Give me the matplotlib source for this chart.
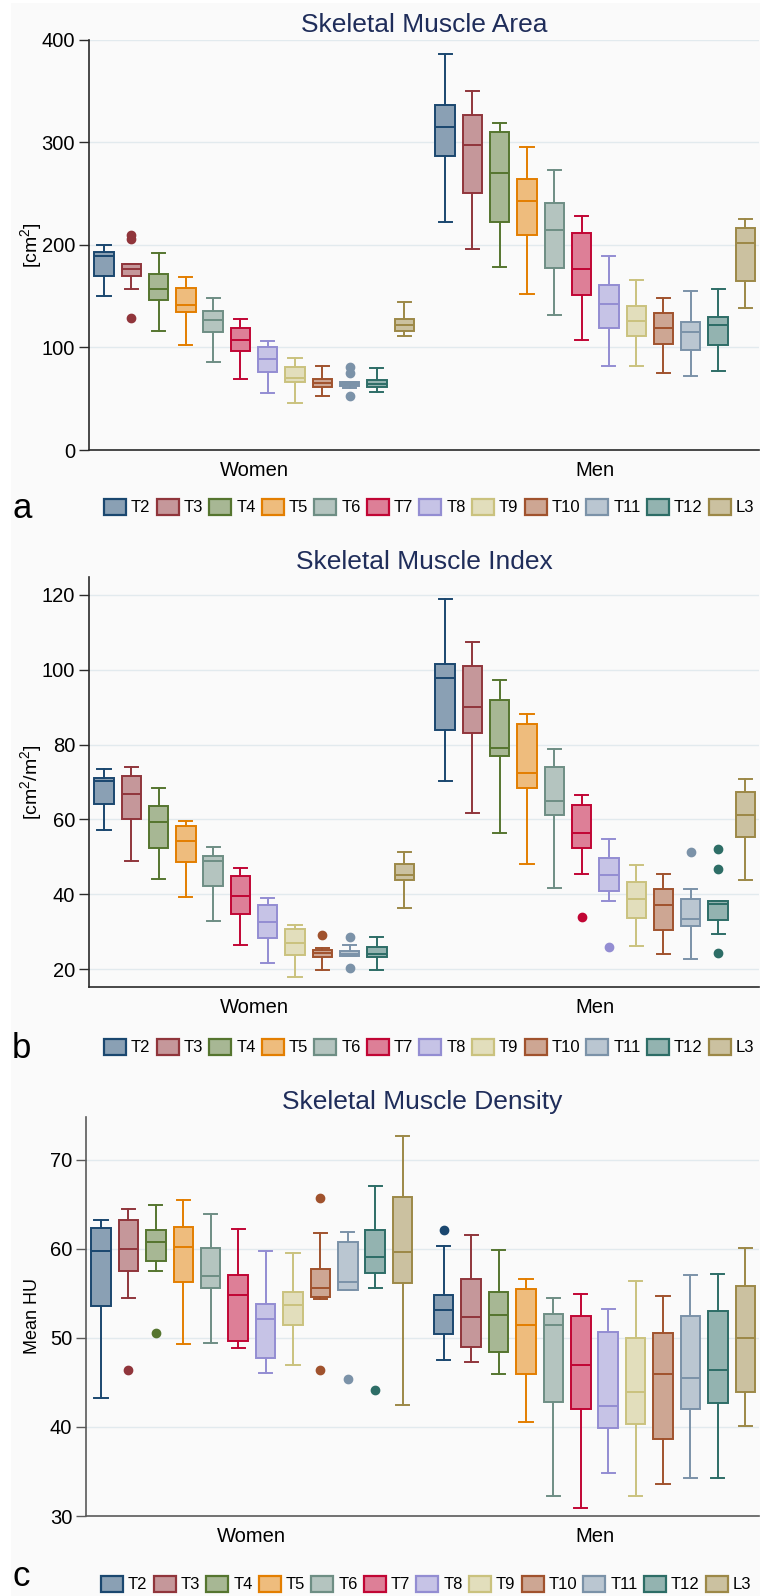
import matplotlib
matplotlib.use('Agg')
import matplotlib.pyplot as plt
from matplotlib.patches import Patch, Rectangle
import numpy as np

plt.rcParams['font.family'] = ['Liberation Sans', 'DejaVu Sans']
plt.rcParams['mathtext.default'] = 'regular'

LEVELS = ['T2', 'T3', 'T4', 'T5', 'T6', 'T7', 'T8', 'T9', 'T10', 'T11', 'T12', 'L3']
GROUPS = ['Women', 'Men']
COLORS = ['#1a476f', '#90353b', '#55752f', '#e37e00', '#6e8e84', '#c10534',
          '#938dd2', '#cac27e', '#a0522d', '#7b92a8', '#2d6d66', '#9c8847']

# ---- Panel a: Skeletal Muscle Area (women T2..L3, then men T2..L3) ----
AREA_LO  = [150, 157, 116, 102, 86, 69, 56, 46, 53, 60, 57, 111,
            222, 196, 179, 152, 132, 107, 82, 82, 75, 72, 77, 138.5]
AREA_Q1  = [170, 170, 146, 135, 115, 97, 76, 66, 61.5, 62.4, 61, 116,
            286.5, 251, 222.5, 210, 178, 151.5, 119.5, 111, 103.5, 97.5, 102.5, 165]
AREA_MED = [189, 177, 157, 141, 127, 107, 89, 70.5, 65, 64.4, 64.5, 122,
            315, 298, 270, 242.5, 214.5, 177, 142.5, 126, 119.5, 115.5, 121.5, 202]
AREA_Q3  = [193, 181.5, 172, 158, 136, 119, 100, 81, 69, 66.3, 68, 127.5,
            336.5, 327, 310, 264.5, 241, 211.5, 161, 140, 133.5, 125, 129.5, 216.5]
AREA_HI  = [200, 181.5, 192.5, 169, 148, 128, 106, 90, 82, 66.3, 80, 144,
            386, 350.5, 319, 296, 273, 228, 189, 166, 148.5, 155.5, 157, 225]
AREA_FLIERS = {1: [210, 206, 128.5], 9: [81, 75, 53]}

# ---- Panel b: Skeletal Muscle Index ----
SMI_LO  = [57.2, 49.0, 44.2, 39.2, 32.8, 26.5, 21.6, 17.8, 19.8, 23.6, 19.8, 36.4,
           70.2, 61.8, 56.5, 48.2, 41.7, 45.3, 38.1, 26.1, 24.0, 22.8, 29.4, 43.9]
SMI_Q1  = [64.2, 60.2, 52.4, 48.6, 42.1, 34.6, 28.3, 23.8, 23.3, 23.6, 23.2, 43.7,
           84.0, 83.0, 76.9, 68.3, 61.3, 52.4, 40.8, 33.7, 30.5, 31.5, 33.2, 55.2]
SMI_MED = [70.4, 66.7, 59.3, 54.3, 48.8, 39.4, 32.7, 26.9, 24.2, 24.1, 24.1, 45.2,
           97.7, 90.0, 79.1, 72.4, 64.8, 56.5, 45.1, 38.6, 37.1, 33.3, 37.4, 61.2]
SMI_Q3  = [71.1, 71.5, 63.5, 58.2, 50.1, 45.0, 37.2, 30.8, 25.0, 24.7, 26.0, 48.2,
           101.5, 101.0, 92.0, 85.4, 73.9, 63.8, 49.8, 43.2, 41.4, 38.8, 38.3, 67.2]
SMI_HI  = [73.6, 74.1, 68.4, 59.7, 52.5, 46.9, 39.1, 31.9, 25.6, 26.5, 28.6, 51.2,
           119.0, 107.3, 97.3, 88.3, 78.9, 66.6, 54.7, 47.9, 45.3, 41.4, 38.3, 70.9]
SMI_FLIERS = {8: [29.0], 9: [28.5, 20.2], 17: [33.9], 18: [26.0], 21: [51.4],
              22: [52.0, 46.7, 24.3]}

# ---- Panel c: Skeletal Muscle Density ----
SMD_LO  = [43.2, 54.5, 57.5, 49.3, 49.4, 48.9, 46.1, 47.0, 54.4, 55.4, 55.6, 42.5,
           47.5, 47.3, 45.9, 40.6, 32.2, 30.9, 34.8, 32.2, 33.6, 34.3, 34.3, 40.1]
SMD_Q1  = [53.6, 57.5, 58.6, 56.3, 55.6, 49.6, 47.7, 51.5, 54.6, 55.4, 57.3, 56.2,
           50.4, 49.0, 48.4, 46.0, 42.8, 42.0, 39.9, 40.3, 38.7, 42.0, 42.7, 43.9]
SMD_MED = [59.8, 60.0, 60.8, 60.2, 57.0, 54.8, 52.1, 53.7, 55.6, 56.3, 59.1, 59.6,
           53.1, 52.4, 52.6, 51.4, 51.4, 47.0, 42.4, 43.9, 45.9, 45.5, 46.4, 50.0]
SMD_Q3  = [62.3, 63.2, 62.1, 62.4, 60.1, 57.1, 53.8, 55.2, 57.7, 60.8, 62.1, 65.8,
           54.8, 56.6, 55.2, 55.5, 52.7, 52.5, 50.7, 50.0, 50.5, 52.5, 53.0, 55.8]
SMD_HI  = [63.2, 64.5, 64.9, 65.5, 63.9, 62.2, 59.7, 59.5, 61.8, 61.9, 67.1, 72.7,
           60.3, 61.5, 59.9, 56.6, 54.5, 54.9, 53.2, 56.4, 54.7, 57.1, 57.2, 60.1]
SMD_FLIERS = {1: [46.4], 2: [50.6], 8: [65.7, 46.4], 9: [45.4], 10: [44.1], 12: [62.1]}

W, H = 760, 1596
BG = (0.98, 0.98, 0.98)


def lighten(c, a=0.5):
    r, g, b = matplotlib.colors.to_rgb(c)
    return (a * r + (1 - a) * BG[0], a * g + (1 - a) * BG[1], a * b + (1 - a) * BG[2])


fig = plt.figure(figsize=(W / 100, H / 100), dpi=100, facecolor='white')
fig.add_artist(Rectangle((11 / W, 0), 1, 1 - 3 / H, transform=fig.transFigure,
                         facecolor='#fafafa', edgecolor='none', zorder=-10))

POS = np.concatenate([np.arange(1, 13), np.arange(13.5, 25.5)])
GROUP_CENTERS = [6.5, 19.0]


def panel(rect_px, lo, q1, med, q3, hi, fliers, ylim, yticks, ylabel, ylabel_size,
          title, spine_color, letter, legend_y, legend_x, label_x, letter_base):
    l, t, r, b = rect_px
    ax = fig.add_axes([l / W, 1 - b / H, (r - l) / W, (b - t) / H])
    ax.set_facecolor('none')
    stats = []
    for i in range(24):
        stats.append({'whislo': lo[i], 'q1': q1[i], 'med': med[i], 'q3': q3[i],
                      'whishi': hi[i], 'fliers': fliers.get(i, [])})
    res = ax.bxp(stats, positions=POS, widths=0.71, capwidths=0.48,
                 patch_artist=True, manage_ticks=False)
    lw = 1.4
    for i in range(24):
        c = COLORS[i % 12]
        bx = res['boxes'][i]
        bx.set_facecolor(lighten(c))
        bx.set_edgecolor(c)
        bx.set_linewidth(lw)
        for ln in res['whiskers'][2 * i:2 * i + 2] + res['caps'][2 * i:2 * i + 2]:
            ln.set_color(c)
            ln.set_linewidth(lw)
        res['medians'][i].set_color(c)
        res['medians'][i].set_linewidth(lw)
        fl = res['fliers'][i]
        fl.set_marker('o')
        fl.set_markerfacecolor(c)
        fl.set_markeredgecolor(c)
        fl.set_markersize(6)
    ax.set_xlim(0.45, 25.0)
    ax.set_ylim(*ylim)
    ax.set_yticks(yticks)
    ax.set_yticklabels([str(v) for v in yticks])
    ax.set_xticks(GROUP_CENTERS)
    ax.set_xticklabels(GROUPS)
    ax.tick_params(axis='x', length=0, labelsize=14.5, pad=8)
    ax.tick_params(axis='y', length=7, width=1, color=spine_color, labelsize=14.5, pad=3)
    ax.yaxis.grid(True, color='#e2eaee', linewidth=1.0)
    ax.set_axisbelow(True)
    for s in ['top', 'right']:
        ax.spines[s].set_visible(False)
    for s in ['left', 'bottom']:
        ax.spines[s].set_color(spine_color)
        ax.spines[s].set_linewidth(1.2)
    ax.set_ylabel(ylabel, fontsize=ylabel_size)
    ax.yaxis.set_label_coords((label_x - l) / (r - l), 0.5)
    ax.set_title(title, fontsize=19, color='#1f2d5a', pad=6)
    handles = [Patch(facecolor=lighten(c), edgecolor=c, linewidth=1.6) for c in COLORS]
    fig.legend(handles, LEVELS, loc='center left',
               bbox_to_anchor=(legend_x / W, 1 - legend_y / H),
               bbox_transform=fig.transFigure, ncol=12, frameon=False, fontsize=12,
               handlelength=1.32, handleheight=1.08, handletextpad=0.3,
               columnspacing=0.37, borderpad=0, borderaxespad=0)
    fig.text(12 / W, 1 - letter_base / H, letter, fontsize=25, va='baseline', ha='left')
    return ax


panel((89, 40, 759, 450), AREA_LO, AREA_Q1, AREA_MED, AREA_Q3, AREA_HI, AREA_FLIERS,
      (0, 400), [0, 100, 200, 300, 400], '[cm$^{2}$]', 14, 'Skeletal Muscle Area',
      '#2a2a2a', 'a', 507, 104, 44, 518)
panel((89, 577, 759, 987), SMI_LO, SMI_Q1, SMI_MED, SMI_Q3, SMI_HI, SMI_FLIERS,
      (15.2, 124.8), [20, 40, 60, 80, 100, 120], '[cm$^{2}$/m$^{2}$]', 14,
      'Skeletal Muscle Index', '#2a2a2a', 'b', 1047, 104, 44, 1058)
panel((86, 1117, 759, 1516), SMD_LO, SMD_Q1, SMD_MED, SMD_Q3, SMD_HI, SMD_FLIERS,
      (30, 74.8), [30, 40, 50, 60, 70], 'Mean HU', 13, 'Skeletal Muscle Density',
      '#5a5a5a', 'c', 1584, 101, 41, 1586)

fig.savefig('out.png', dpi=100, facecolor='white')
